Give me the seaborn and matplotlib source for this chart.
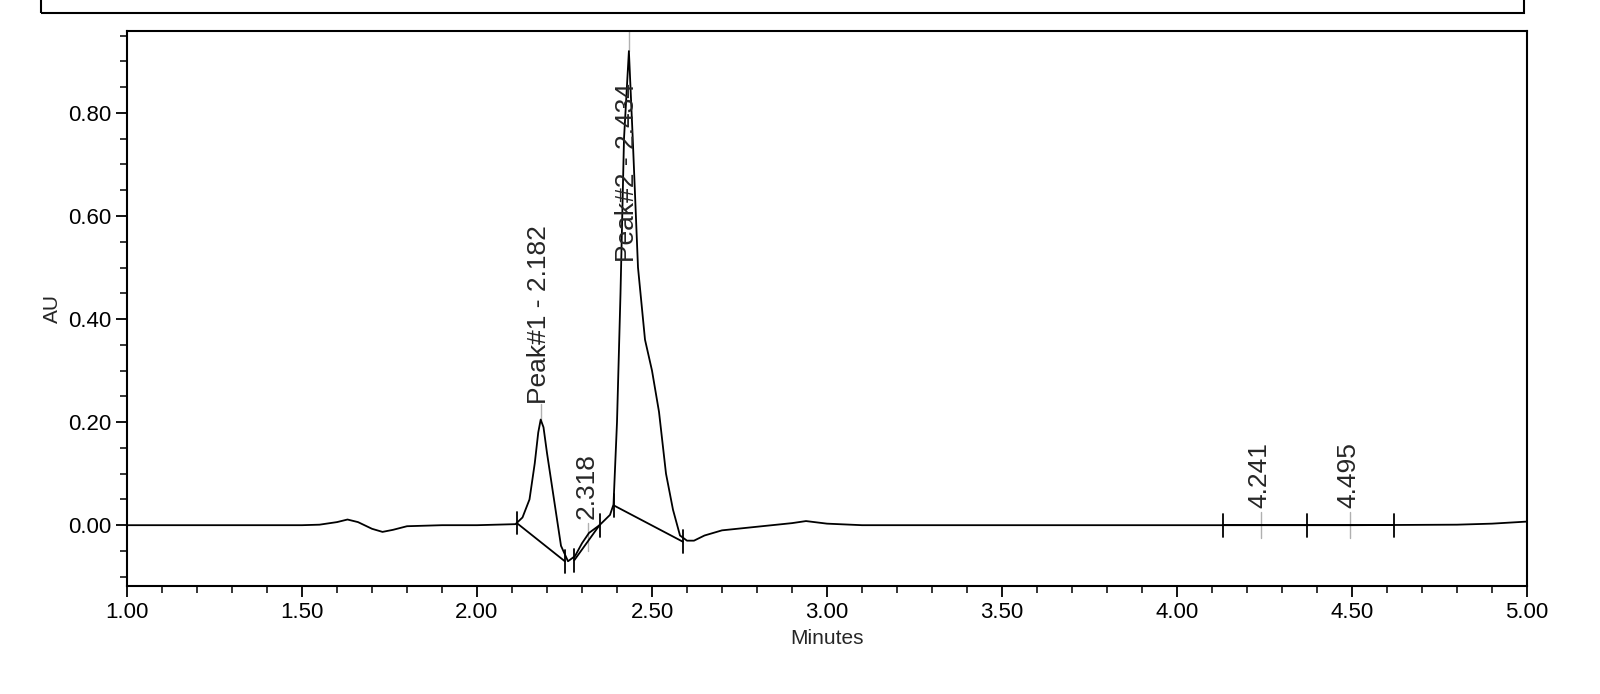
import matplotlib
matplotlib.use("Agg")
import matplotlib.pyplot as plt
import seaborn as sns
import pandas as pd
from matplotlib.ticker import MultipleLocator, FormatStrFormatter
from matplotlib.patches import Rectangle

sns.set_style("ticks")
plt.rcParams['font.family'] = ['Liberation Sans', 'DejaVu Sans']

minutes = [1.00, 1.50, 1.55, 1.60, 1.63, 1.66, 1.70, 1.73, 1.76, 1.80, 1.90, 2.00, 2.11, 2.13, 2.15,
           2.165, 2.175, 2.182, 2.19, 2.20, 2.22, 2.24, 2.26, 2.28, 2.30, 2.32, 2.35, 2.38, 2.39,
           2.40, 2.41, 2.42, 2.434, 2.445, 2.46, 2.48, 2.50, 2.52, 2.54, 2.56, 2.58, 2.60, 2.62,
           2.65, 2.70, 2.80, 2.90, 2.94, 3.00, 3.10, 3.50, 4.00, 4.50, 4.80, 4.90, 5.00]
au = [0.000, 0.000, 0.001, 0.006, 0.011, 0.006, -0.007, -0.013, -0.009, -0.002, 0.000, 0.000, 0.002, 0.015, 0.05,
      0.12, 0.18, 0.205, 0.19, 0.14, 0.05, -0.04, -0.07, -0.06, -0.035, -0.015, 0.00, 0.02, 0.04,
      0.20, 0.45, 0.75, 0.92, 0.75, 0.50, 0.36, 0.30, 0.22, 0.10, 0.03, -0.02, -0.03, -0.03,
      -0.02, -0.01, -0.003, 0.004, 0.008, 0.003, 0.000, 0.000, 0.000, 0.000, 0.001, 0.003, 0.007]
baseline_x = [[2.114, 2.251], [2.278, 2.35], [2.392, 2.588], [4.13, 4.62]]
baseline_y = [[0.004, -0.070], [-0.068, 0.000], [0.038, -0.032], [0.0, 0.0]]
event_marks_x = [2.114, 2.251, 2.278, 2.35, 2.392, 2.588, 4.13, 4.37, 4.62]
event_marks_y = [0.004, -0.070, -0.068, 0.000, 0.038, -0.032, 0.0, 0.0, 0.0]
peak_x = [2.182, 2.434, 2.318, 4.241, 4.495]
peak_top = [0.205, 0.92, -0.01, 0.0, 0.0]
peak_labels = ["Peak#1 - 2.182", "Peak#2 - 2.434", "2.318", "4.241", "4.495"]
label_y = [0.235, 0.51, 0.012, 0.033, 0.033]

fig = plt.figure(figsize=(16, 6.94), dpi=100)
ax = fig.add_axes([127/1600, 1-586/694, 1400/1600, 555/694])
df = pd.DataFrame({"Minutes": minutes, "AU": au})
sns.lineplot(data=df, x="Minutes", y="AU", ax=ax, color="black", lw=1.3)
for bx, by in zip(baseline_x, baseline_y):
    ax.plot(bx, by, color="black", lw=1.3)
for mx, my in zip(event_marks_x, event_marks_y):
    ax.plot([mx, mx], [my - 0.022, my + 0.022], color="black", lw=1.3)
for px, pt, lab, ly in zip(peak_x, peak_top, peak_labels, label_y):
    if pt > 0.5:
        ax.plot([px, px], [pt, 0.96], color="#b0b0b0", lw=1, zorder=1)
    elif pt > 0.1:
        ax.plot([px, px], [pt, ly], color="#b0b0b0", lw=1, zorder=1)
    else:
        ax.plot([px, px], [-0.025, 0.025] if px > 4 else [-0.05, 0.005], color="#b0b0b0", lw=1, zorder=1)
    ax.text(px - 0.005, ly, lab, rotation=90, ha="center", va="bottom", fontsize=19)
ax.set_xlim(1.0, 5.0)
ax.set_ylim(-0.118, 0.959)
ax.xaxis.set_major_locator(MultipleLocator(0.5))
ax.xaxis.set_minor_locator(MultipleLocator(0.1))
ax.yaxis.set_major_locator(MultipleLocator(0.2))
ax.yaxis.set_minor_locator(MultipleLocator(0.05))
ax.xaxis.set_major_formatter(FormatStrFormatter("%.2f"))
ax.yaxis.set_major_formatter(FormatStrFormatter("%.2f"))
ax.tick_params(which="major", length=8, width=1.3, labelsize=16, direction="out", colors="black")
ax.tick_params(which="minor", length=5, width=1.3, direction="out")
for s in ax.spines.values():
    s.set_linewidth(1.5)
    s.set_color("black")
    s.set_visible(True)
ax.set_xlabel("Minutes", fontsize=15)
ax.set_ylabel("AU", fontsize=15)
fig.patches.append(Rectangle((41/1600, 1-13/694), 1483/1600, 0.1, transform=fig.transFigure,
                             fill=False, edgecolor="black", lw=1.5))
fig.savefig("out.png", dpi=100)
